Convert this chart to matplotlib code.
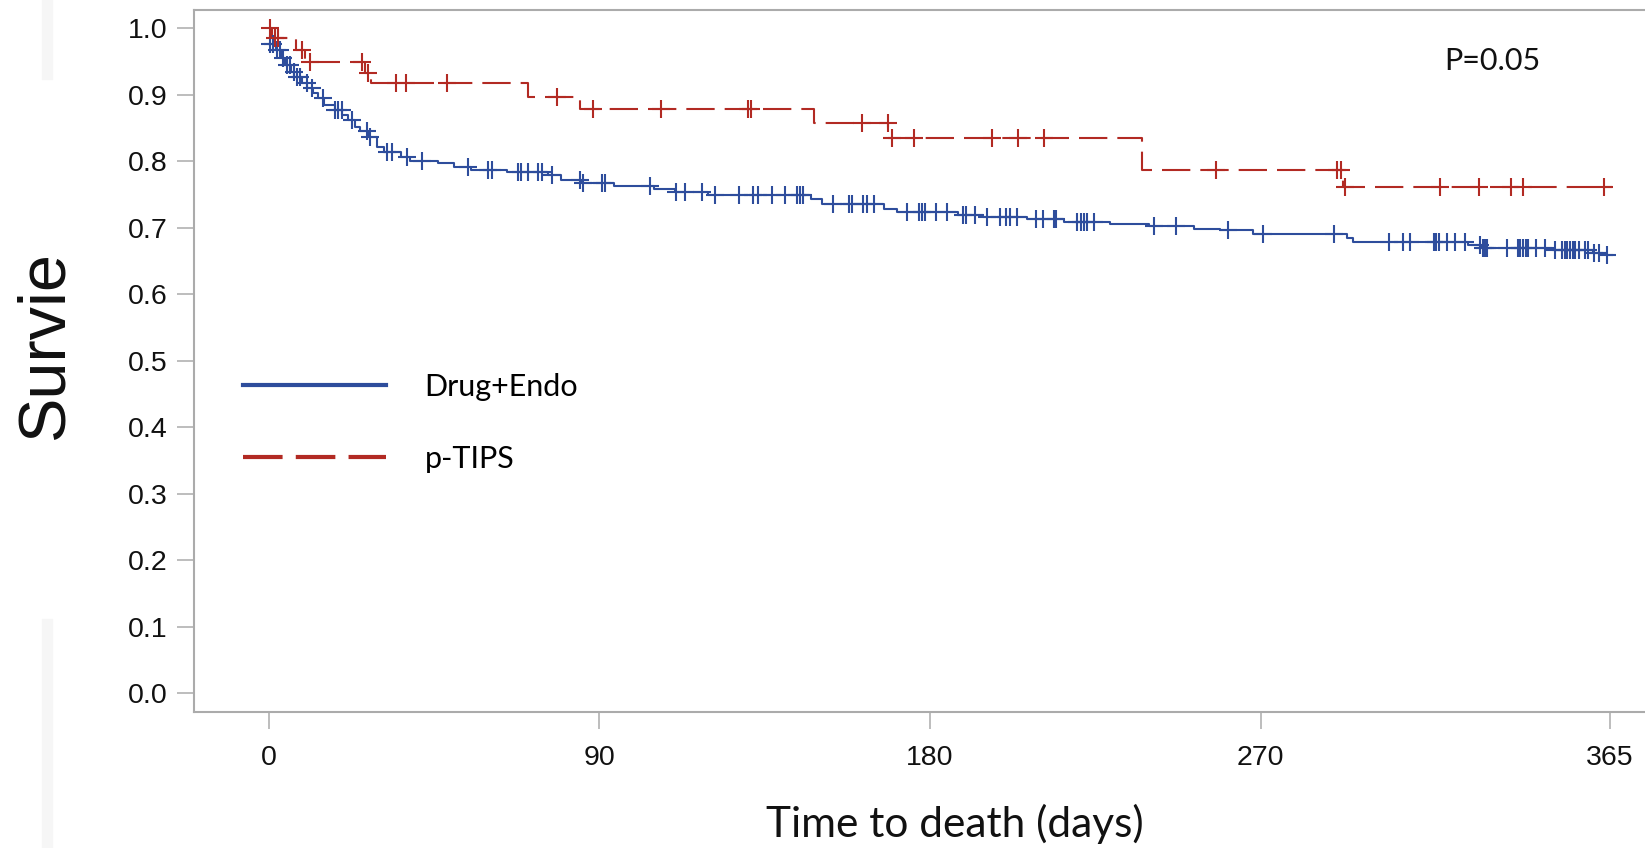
import matplotlib.pyplot as plt
import matplotlib.patches as mpatches
from matplotlib.lines import Line2D
import numpy as np

# kaplan-meier curves, survival to one year

plt.rcParams["lines.scale_dashes"] = False

# drug + endoscopy arm: event times (days) and survival after each step
drug_times = [0, 2.0, 3.5, 4.5, 6.0, 7.0, 9.0, 10.5, 12.0, 13.5, 15.0, 18.0,
              20.0, 21.5, 23.5, 25.0, 27.0, 29.5, 31.5, 36.0, 38.5, 46.0,
              50.5, 55.0, 65.0, 76.0, 79.5, 85.0, 94.0, 105.0, 110.5, 119.5,
              147.5, 150.5, 167.5, 171.0, 187.5, 194.5, 206.5, 216.5, 229.0,
              239.5, 251.8, 258.9, 267.9, 293.4, 295.0, 326.5, 330.3, 349.2,
              360.5, 364.0]
drug_surv = [0.977, 0.967, 0.955, 0.945, 0.935, 0.927, 0.917, 0.910, 0.902,
             0.895, 0.885, 0.877, 0.870, 0.862, 0.852, 0.845, 0.837, 0.822,
             0.814, 0.807, 0.800, 0.797, 0.792, 0.787, 0.784, 0.779, 0.772,
             0.768, 0.763, 0.758, 0.754, 0.749, 0.743, 0.736, 0.728, 0.724,
             0.719, 0.716, 0.713, 0.709, 0.706, 0.702, 0.698, 0.696, 0.690,
             0.684, 0.679, 0.674, 0.670, 0.667, 0.662, 0.659]
drug_censor = [0.3, 1.3, 2.2, 3.1, 4.0, 4.9, 5.9, 6.8, 7.7, 8.6, 10.4, 11.8,
               14.9, 18.1, 19.0, 19.9, 22.6, 26.7, 27.6, 32.1, 33.5, 37.6,
               41.7, 54.4, 59.8, 60.7, 68.0, 68.6, 70.7, 73.4, 74.3, 77.0,
               84.7, 85.7, 90.7, 91.6, 103.8, 111.0, 113.3, 117.9, 121.5,
               127.9, 131.9, 133.3, 136.9, 140.5, 143.7, 144.6, 145.4, 153.5,
               158.0, 158.7, 161.8, 162.8, 164.7, 173.8, 177.1, 177.7, 178.6,
               181.6, 184.7, 189.0, 189.8, 192.2, 195.6, 199.0, 200.8, 201.7,
               203.7, 208.8, 210.8, 213.7, 214.4, 220.1, 221.0, 221.9, 222.8,
               224.6, 240.9, 246.9, 261.1, 270.7, 289.9, 305.0, 308.8, 310.7,
               317.1, 317.8, 318.5, 320.8, 322.9, 325.6, 329.8, 330.5, 331.0,
               331.7, 337.1, 339.9, 340.7, 341.4, 342.1, 342.8, 344.9, 347.3,
               350.1, 352.0, 352.8, 353.4, 354.1, 354.9, 355.6, 356.6, 358.2,
               359.1, 360.6, 362.0, 364.3]
drug_end = 365.5

# pre-emptive tips arm
tips_times = [0, 1.0, 7.5, 10.0, 26.3, 28.0, 70.6, 84.8, 148.5, 168.7,
              237.8, 292.3]
tips_surv = [1.0, 0.985, 0.968, 0.950, 0.933, 0.917, 0.897, 0.878, 0.857,
             0.835, 0.787, 0.761]
tips_censor = [0.5, 1.8, 2.6, 9.0, 11.3, 25.4, 27.0, 34.7, 37.4, 48.5, 78.4,
               88.4, 106.8, 130.6, 131.3, 161.5, 168.5, 169.8, 175.7, 196.8,
               203.9, 211.0, 257.9, 290.9, 292.0, 292.9, 318.7, 329.5, 338.0,
               341.5, 363.5]
tips_end = 365.5

x_ticks = [0, 90, 180, 270, 365]
y_ticks = [0.0, 0.1, 0.2, 0.3, 0.4, 0.5, 0.6, 0.7, 0.8, 0.9, 1.0]
labels = ["Drug+Endo", "p-TIPS"]

blue = "#2E4D9C"
red = "#B22A23"
axis_grey = "#ABABAB"


def surv_at(times, surv, t):
    """value of the step curve at time t"""
    idx = np.searchsorted(times, t, side="right") - 1
    return np.asarray(surv)[np.clip(idx, 0, len(surv) - 1)]


fig = plt.figure(figsize=(16.45, 8.48), dpi=100)
ax = fig.add_axes([194 / 1645, 136 / 848, 1 - 194 / 1645, 702 / 848])

# faint scanning marks in the left margin
fig.patches.append(mpatches.Rectangle((42 / 1645, 1 - 79 / 848), 10 / 1645,
                                      79 / 848, transform=fig.transFigure,
                                      color="#F6F6F6", zorder=0))
fig.patches.append(mpatches.Rectangle((42 / 1645, 0), 10 / 1645,
                                      229 / 848, transform=fig.transFigure,
                                      color="#F6F6F6", zorder=0))

# curves
ax.step(drug_times + [drug_end], drug_surv + [drug_surv[-1]], where="post",
        color=blue, linewidth=1.5)
ax.step(tips_times + [tips_end], tips_surv + [tips_surv[-1]], where="post",
        color=red, linewidth=1.5, dashes=(20.4, 7.2))

# censored patients
ax.plot(drug_censor, surv_at(drug_times, drug_surv, drug_censor), "+",
        color=blue, markersize=13, markeredgewidth=1.5)
ax.plot(tips_censor, surv_at(tips_times, tips_surv, tips_censor), "+",
        color=red, markersize=13, markeredgewidth=1.5)

ax.set_xlim(-20.3, 374.6)
ax.set_ylim(-0.028, 1.0275)
ax.set_xticks(x_ticks)
ax.set_yticks(y_ticks)
ax.set_xticklabels([str(t) for t in x_ticks])
ax.set_yticklabels([f"{t:.1f}" for t in y_ticks])

for side in ["left", "top", "bottom"]:
    ax.spines[side].set_color(axis_grey)
    ax.spines[side].set_linewidth(1.5)
ax.spines["right"].set_visible(False)
ax.tick_params(colors=axis_grey, length=12, width=1.1, labelcolor="#111111",
               labelsize=20.5)
ax.tick_params(axis="y", pad=7)
ax.tick_params(axis="x", pad=12)
for lab in ax.get_xticklabels() + ax.get_yticklabels():
    lab.set_fontfamily("Liberation Sans")

# p value
ax.text(320, 0.937, "P=0.05", fontsize=22, fontfamily="Lato",
        ha="left", va="baseline", color="#111111")

# legend
handles = [
    Line2D([], [], color=blue, linewidth=3.0),
    Line2D([], [], color=red, linewidth=3.0, dashes=(28.5, 9.5)),
]
ax.legend(handles, labels, loc="center left", bbox_to_anchor=(0.0338, 0.412),
          frameon=False, borderpad=0, borderaxespad=0, handlelength=4.67,
          handletextpad=1.27, labelspacing=1.45,
          prop={"family": "Lato", "size": 22})

# axis titles
fig.text(46 / 1645, 1 - 345 / 848, "Survie", rotation=90, fontsize=48,
         fontfamily="Liberation Sans", ha="center", va="center",
         color="#111111")
fig.text(955 / 1645, 1 - 837 / 848, "Time to death (days)", fontsize=30.5,
         fontfamily="Lato", ha="center", va="baseline", color="#111111")

plt.savefig("out.png", dpi=100)
